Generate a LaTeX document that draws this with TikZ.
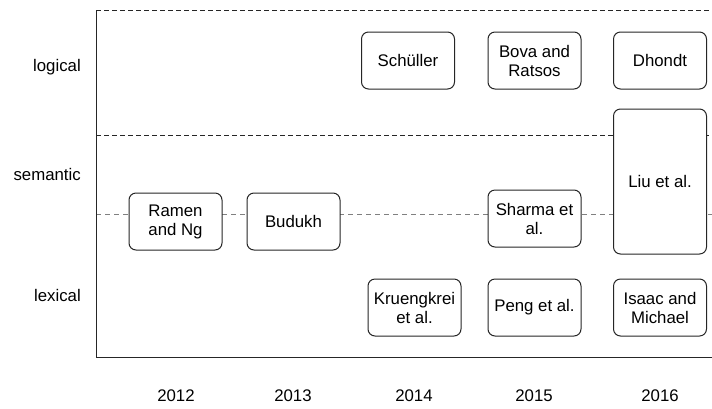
\documentclass[tikz,border=0pt]{standalone}
\usepackage{fontspec}
\setmainfont{Liberation Sans}
\tikzstyle{paper}=[draw=black!85,fill=white,rounded corners=7pt,minimum width=93pt,minimum height=57pt,align=center,inner sep=1pt,line width=1pt]
\tikzstyle{level}=[anchor=base east,inner sep=0pt]
\tikzstyle{year}=[anchor=base,inner sep=0pt]
\tikzstyle{border}=[dashed,dash pattern=on 5pt off 3pt,line width=0.8pt,black!85]
\tikzstyle{middle}=[dashed,dash pattern=on 5pt off 4pt,line width=0.8pt,black!50]
\tikzstyle{axis}=[line width=1pt,black!85]

\begin{document}
\begin{tikzpicture}[x=1pt,y=-1pt,font=\fontsize{16.8}{19}\selectfont]
    \useasboundingbox (0,0) rectangle (712,408);
    % First the frame of the chart
    \coordinate (top) at (96,10);
    \coordinate (topend) at (712,10);
    \coordinate (origin) at (96,357);
    \coordinate (axisend) at (712,357);
    \coordinate (semtop) at (96,135);
    \coordinate (semtopend) at (712,135);
    \coordinate (semmid) at (96,214);
    \coordinate (semmidend) at (712,214);
    \draw[border] (top) -- (topend);
    \draw[border] (semtop) -- (semtopend);
    \draw[middle] (semmid) -- (semmidend);
    \draw[axis] (top) -- (origin) -- (axisend);

    % Levels and years
    \foreach \y/\name in {71/logical, 180/semantic, 301/lexical}
        \node[level] (\name) at (81,\y) {\name};
    \foreach \x/\name in {176/2012, 293/2013, 414/2014, 534/2015, 660/2016}
        \node[year] (y\name) at (\x,401) {\name};

    % Then the papers
    \foreach \pos/\name/\txt in {{(408,60.5)/schuller/Sch\"uller}, {(534.5,60.5)/bova/{Bova and\\Ratsos}},
        {(660,60.5)/dhondt/Dhondt}, {(175.5,221.5)/ramen/{Ramen\\and Ng}}, {(293.5,221.5)/budukh/Budukh},
        {(534.5,218.5)/sharma/{Sharma et\\al.}}, {(414.5,307.5)/kruengkrei/{Kruengkrei\\et al.}},
        {(534.5,307.5)/peng/{Peng et al.}}, {(660,307.5)/isaac/{Isaac and\\Michael}}}
        \node[paper] (\name) at \pos {\txt};
    \node[paper, minimum height=145pt] (liu) at (660,181.5) {Liu et al.};
\end{tikzpicture}
\end{document}
